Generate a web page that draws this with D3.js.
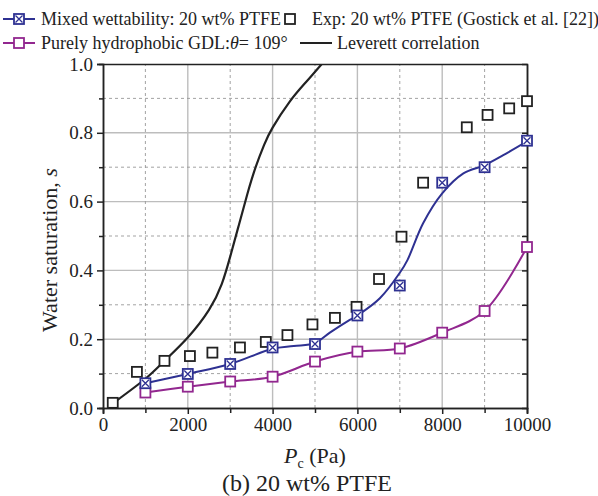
<!DOCTYPE html>
<html>
<head>
<meta charset="utf-8">
<script src="https://cdnjs.cloudflare.com/ajax/libs/d3/7.8.5/d3.min.js"></script>
<style>
body{margin:0;background:#fff;}
text{font-family:"Liberation Serif","Times New Roman",serif;fill:#222;}
</style>
</head>
<body>
<div id="chart"></div>
<script>
// experiment, Gostick et al.
var expP = [230, 800, 1450, 2050, 2580, 3230, 3840, 4350, 4940, 5470, 5980, 6510, 7040, 7550, 8580, 9070, 9580, 10000];
var expS = [0.015, 0.105, 0.137, 0.151, 0.161, 0.176, 0.192, 0.212, 0.243, 0.262, 0.294, 0.375, 0.498, 0.655, 0.816, 0.852, 0.871, 0.892];

// mixed wettability markers
var mixP = [1000, 2000, 3000, 4000, 5000, 6000, 7000, 8000, 9000, 10000];
var mixS = [0.072, 0.099, 0.128, 0.176, 0.186, 0.269, 0.356, 0.655, 0.700, 0.777];
// mixed wettability fitted line
var mixLineP = [1000, 2000, 3000, 4000, 4500, 5000, 5350, 5820, 6000, 6530, 7000, 7180, 7550, 8000, 8500, 9000, 9440, 10000];
var mixLineS = [0.072, 0.099, 0.128, 0.172, 0.180, 0.189, 0.219, 0.256, 0.269, 0.319, 0.393, 0.43, 0.537, 0.624, 0.682, 0.706, 0.735, 0.775];

// purely hydrophobic
var phobP = [1000, 2000, 3000, 4000, 5000, 6000, 7000, 8000, 9000, 10000];
var phobS = [0.045, 0.062, 0.077, 0.091, 0.135, 0.164, 0.173, 0.219, 0.282, 0.468];

// Leverett correlation
var levP = [283, 1000, 1450, 2000, 2500, 2800, 3000, 3200, 3400, 3600, 3800, 4000, 4400, 4800, 5160];
var levS = [0.018, 0.085, 0.137, 0.205, 0.285, 0.36, 0.44, 0.53, 0.62, 0.70, 0.765, 0.815, 0.89, 0.949, 1.0];

var xTicks = [0, 2000, 4000, 6000, 8000, 10000];
var yTicks = [0.0, 0.2, 0.4, 0.6, 0.8, 1.0];

var W = 598, H = 496;
var blue = "#2e3192", purple = "#92278f", black = "#222";

var svg = d3.select("#chart").append("svg")
	.attr("width", W)
	.attr("height", H);

var x = d3.scaleLinear().domain([0, 10000]).range([103, 527]);
var y = d3.scaleLinear().domain([0, 1]).range([408, 64]);

// grid
var minorX = d3.range(1000, 10000, 2000);
var minorY = d3.range(0.1, 1, 0.2);
var grid = svg.append("g");
grid.selectAll(".gx").data(xTicks.slice(1, -1)).enter().append("line")
	.attr("x1", function(d){ return x(d); }).attr("x2", function(d){ return x(d); })
	.attr("y1", y(0)).attr("y2", y(1))
	.attr("stroke", "#bdbdbd").attr("stroke-width", 1.4);
grid.selectAll(".gy").data(yTicks.slice(1, -1)).enter().append("line")
	.attr("x1", x(0)).attr("x2", x(10000))
	.attr("y1", function(d){ return y(d); }).attr("y2", function(d){ return y(d); })
	.attr("stroke", "#bdbdbd").attr("stroke-width", 1.4);
grid.selectAll(".mx").data(minorX).enter().append("line")
	.attr("x1", function(d){ return x(d); }).attr("x2", function(d){ return x(d); })
	.attr("y1", y(0)).attr("y2", y(1))
	.attr("stroke", "#999").attr("stroke-width", 0.9).attr("stroke-dasharray", "3,3");
grid.selectAll(".my").data(minorY).enter().append("line")
	.attr("x1", x(0)).attr("x2", x(10000))
	.attr("y1", function(d){ return y(d); }).attr("y2", function(d){ return y(d); })
	.attr("stroke", "#999").attr("stroke-width", 0.9).attr("stroke-dasharray", "3,3");

// axes
svg.append("g").attr("transform", "translate(0," + y(0) + ")")
	.call(d3.axisBottom(x).tickValues(xTicks).tickSize(6).tickPadding(4).tickFormat(d3.format("d")));
svg.append("g").attr("transform", "translate(0," + y(0) + ")")
	.call(d3.axisBottom(x).tickValues(minorX).tickSize(5).tickFormat(""));
svg.append("g").attr("transform", "translate(" + x(0) + ",0)")
	.call(d3.axisLeft(y).tickValues(yTicks).tickSize(6).tickPadding(4).tickFormat(d3.format(".1f")));
svg.append("g").attr("transform", "translate(" + x(0) + ",0)")
	.call(d3.axisLeft(y).tickValues(minorY).tickSize(4).tickFormat(""));
svg.append("g").attr("transform", "translate(" + x(10000) + ",0)")
	.call(d3.axisLeft(y).tickValues(d3.range(0.1, 1, 0.1)).tickSize(5).tickFormat(""));
svg.append("g").attr("transform", "translate(0," + y(1) + ")")
	.call(d3.axisBottom(x).tickValues([]).tickSize(0));
svg.append("g").attr("transform", "translate(" + x(10000) + ",0)")
	.call(d3.axisRight(y).tickValues([]).tickSize(0));

svg.selectAll(".domain, .tick line").attr("stroke", black).attr("stroke-width", 1.5);
svg.selectAll(".tick text").style("font-size", "19px").attr("fill", black)
	.style("font-family", "'Liberation Serif',serif");

// clip
svg.append("clipPath").attr("id", "clip").append("rect")
	.attr("x", x(0)).attr("y", y(1)).attr("width", x(10000) - x(0)).attr("height", y(0) - y(1));

var line = d3.line()
	.x(function(d){ return x(d[0]); })
	.y(function(d){ return y(d[1]); })
	.curve(d3.curveCatmullRom.alpha(0.5));
var smooth = d3.line()
	.x(function(d){ return x(d[0]); })
	.y(function(d){ return y(d[1]); })
	.curve(d3.curveNatural);

var plot = svg.append("g").attr("clip-path", "url(#clip)");
plot.append("path").datum(d3.zip(levP, levS)).attr("d", smooth)
	.attr("fill", "none").attr("stroke", black).attr("stroke-width", 2.2);
plot.append("path").datum(d3.zip(phobP, phobS)).attr("d", line)
	.attr("fill", "none").attr("stroke", purple).attr("stroke-width", 2);
plot.append("path").datum(d3.zip(mixLineP, mixLineS)).attr("d", line)
	.attr("fill", "none").attr("stroke", blue).attr("stroke-width", 2);

var sq = 10;
function square(g, px, py, col){
	g.append("rect").attr("x", px - sq/2).attr("y", py - sq/2).attr("width", sq).attr("height", sq)
		.attr("fill", "#fff").attr("stroke", col).attr("stroke-width", 1.8);
}
function xsquare(g, px, py){
	square(g, px, py, blue);
	var k = sq/2 - 1.5;
	g.append("path").attr("d", "M" + (px-k) + "," + (py-k) + "L" + (px+k) + "," + (py+k) +
		"M" + (px+k) + "," + (py-k) + "L" + (px-k) + "," + (py+k))
		.attr("stroke", blue).attr("stroke-width", 1.3);
}

var marks = svg.append("g");
d3.zip(expP, expS).forEach(function(d){ square(marks, x(d[0]), y(d[1]), black); });
d3.zip(phobP, phobS).forEach(function(d){ square(marks, x(d[0]), y(d[1]), purple); });
d3.zip(mixP, mixS).forEach(function(d){ xsquare(marks, x(d[0]), y(d[1])); });

// labels
svg.append("text").attr("transform", "translate(57,250) rotate(-90)")
	.attr("text-anchor", "middle").style("font-size", "22px").text("Water saturation, ")
	.append("tspan").style("font-style", "italic").text("s");

var xl = svg.append("text").attr("x", 315).attr("y", 463).attr("text-anchor", "middle").style("font-size", "22px");
xl.append("tspan").style("font-style", "italic").text("P");
xl.append("tspan").attr("dy", 5).style("font-size", "14px").text("c");
xl.append("tspan").attr("dy", -5).text(" (Pa)");

svg.append("text").attr("x", 307).attr("y", 491).attr("text-anchor", "middle")
	.style("font-size", "24px").text("(b) 20 wt% PTFE");

// legend
var leg = svg.append("g");
leg.append("line").attr("x1", 3).attr("x2", 35).attr("y1", 19).attr("y2", 19).attr("stroke", blue).attr("stroke-width", 2);
xsquare(leg, 19, 19);
leg.append("text").attr("x", 41).attr("y", 25).style("font-size", "18px").text("Mixed wettability: 20 wt% PTFE");
square(leg, 290, 19, black);
leg.append("text").attr("x", 312).attr("y", 25).style("font-size", "18px").text("Exp: 20 wt% PTFE (Gostick et al. [22])");

leg.append("line").attr("x1", 3).attr("x2", 35).attr("y1", 43).attr("y2", 43).attr("stroke", purple).attr("stroke-width", 2);
square(leg, 19, 43, purple);
var t2 = leg.append("text").attr("x", 41).attr("y", 49).style("font-size", "18px");
t2.append("tspan").text("Purely hydrophobic GDL:");
t2.append("tspan").style("font-style", "italic").text("\u03b8");
t2.append("tspan").text("= 109\u00b0");
leg.append("line").attr("x1", 300).attr("x2", 332).attr("y1", 43).attr("y2", 43).attr("stroke", black).attr("stroke-width", 2);
leg.append("text").attr("x", 337).attr("y", 49).style("font-size", "18px").text("Leverett correlation");
</script>
</body>
</html>
